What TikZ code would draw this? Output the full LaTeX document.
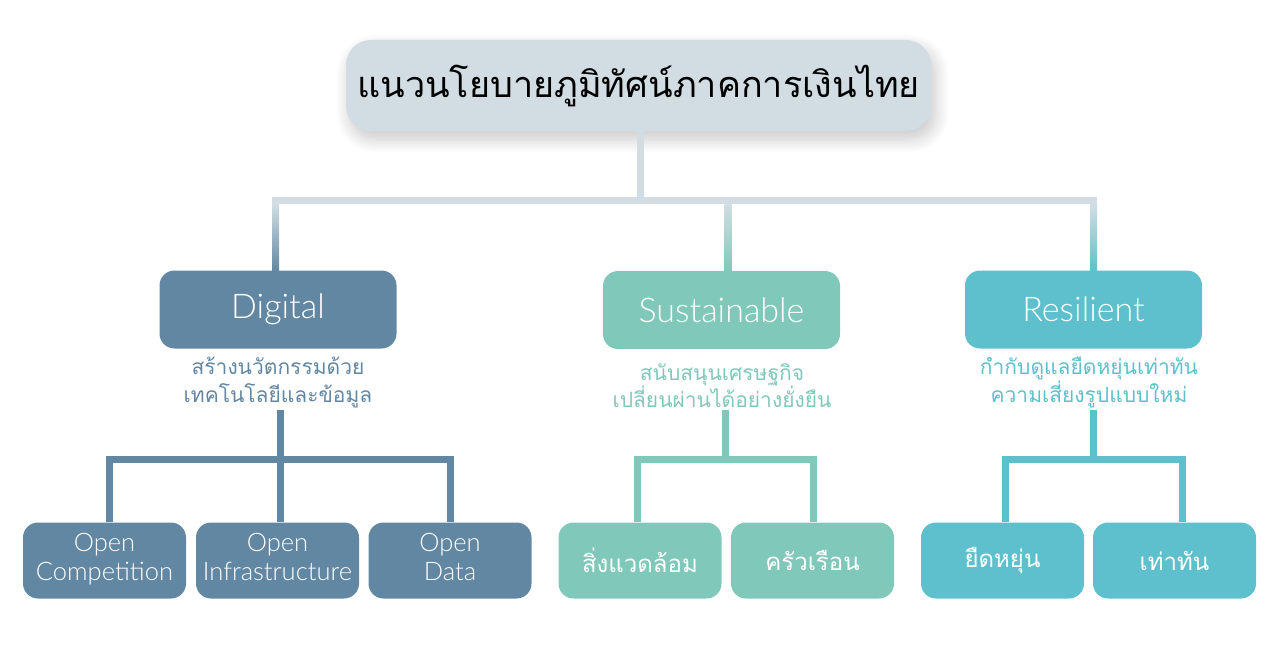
\documentclass[tikz,border=0pt]{standalone}
\usepackage{fontspec}
\IfFontExistsTF{Lato Light}{\setmainfont{Lato Light}}{\setmainfont{Lato}}
\newfontfamily\thaifont[Script=Thai]{Loma}
\usetikzlibrary{positioning}
\usetikzlibrary{calc}
\usetikzlibrary{shadows.blur}
\definecolor{topgrey}{RGB}{209,221,227}
\definecolor{digi}{RGB}{98,135,162}
\definecolor{sust}{RGB}{128,200,186}
\definecolor{resi}{RGB}{94,192,204}

\begin{document}
\begin{tikzpicture}[
    x=1pt, y=-1pt,
    box/.style={rounded corners=15pt, text=white, inner sep=0pt},
    topbox/.style={box, minimum width=237pt, minimum height=78pt, font=\fontsize{34}{40}\selectfont},
    leaf/.style={box, minimum width=163pt, minimum height=76pt, align=center, font=\fontsize{25.5}{29}\selectfont},
    thaileaf/.style={leaf, font=\thaifont\fontsize{24}{30}\selectfont},
    sub/.style={align=center, inner sep=0pt, anchor=south, font=\thaifont\fontsize{21}{27.5}\selectfont},
    bar/.style={line width=7pt},
]
    \useasboundingbox (0,0) rectangle (1280,658);

    \node[fill=topgrey, rounded corners=25pt, minimum width=585pt, minimum height=91pt,
          blur shadow={shadow xshift=4pt, shadow yshift=-8pt, shadow blur radius=14pt, shadow blur steps=12, shadow opacity=22},
          font=\thaifont\fontsize{36}{42}\selectfont] (title) at (638.5,85.5) {แนวนโยบายภูมิทัศน์ภาคการเงินไทย};

    \node[topbox, fill=digi] (digital) at (278,309.5) {Digital};
    \node[topbox, fill=sust] (sustain) at (721.5,310) {Sustainable};
    \node[topbox, fill=resi] (resil) at (1083.5,309.5) {Resilient};

    \node[sub, text=digi] (digsub) at (278,408) {สร้างนวัตกรรมด้วย\\เทคโนโลยีและข้อมูล};
    \node[sub, text=sust] (sustsub) at (722,408) {สนับสนุนเศรษฐกิจ\\เปลี่ยนผ่านได้อย่างยั่งยืน};
    \node[sub, text=resi] (resisub) at (1089,408) {กำกับดูแลยืดหยุ่นเท่าทัน\\ความเสี่ยงรูปแบบใหม่};

    \node[leaf, fill=digi] (opcomp) at (104.5,560.5) {Open\strut\\Competition\strut};
    \node[leaf, fill=digi] (opinfra) at (277.5,560.5) {Open\strut\\Infrastructure\strut};
    \node[leaf, fill=digi] (opdata) at (450,560.5) {Open\strut\\Data\strut};
    \node[thaileaf, fill=sust] (env) at (640,560.5) {สิ่งแวดล้อม};
    \node[thaileaf, fill=sust] (house) at (812.5,560.5) {ครัวเรือน};
    \node[thaileaf, fill=resi] (flex) at (1002.5,560.5) {ยืดหยุ่น};
    \node[thaileaf, fill=resi] (pace) at (1174.5,560.5) {เท่าทัน};

    % top level
    \coordinate (hub) at (640,200.5);
    \coordinate (t1) at (275.5,200.5);
    \coordinate (t2) at (728,200.5);
    \coordinate (t3) at (1093.5,200.5);
    \draw[bar, topgrey] (title.south -| hub) -- (hub);
    \draw[bar, topgrey, line cap=rect] (t1) -- (t3);
    \shade[top color=topgrey, bottom color=digi] ($(t1)+(-3.5,3.5)$) rectangle ($(t1 |- digital.north)+(3.5,1)$);
    \shade[top color=topgrey, bottom color=sust] ($(t2)+(-3.5,3.5)$) rectangle ($(t2 |- sustain.north)+(3.5,1)$);
    \shade[top color=topgrey, bottom color=resi] ($(t3)+(-3.5,3.5)$) rectangle ($(t3 |- resil.north)+(3.5,1)$);

    % Digital
    \coordinate (dj) at (280,459.5);
    \coordinate (dl) at (109.5,459.5);
    \coordinate (dr) at (450.5,459.5);
    \draw[bar, digi] ([yshift=-2pt]digsub.south -| dj) -- (dj |- opinfra.north);
    \draw[bar, digi, line cap=rect] (dl) -- (dr);
    \draw[bar, digi] (dl) -- (dl |- opcomp.north);
    \draw[bar, digi] (dr) -- (dr |- opdata.north);

    % Sustainable
    \coordinate (sj) at (725.5,459.5);
    \coordinate (sl) at (637,459.5);
    \coordinate (sr) at (813,459.5);
    \draw[bar, sust] ([yshift=-2pt]sustsub.south -| sj) -- (sj);
    \draw[bar, sust, line cap=rect] (sl) -- (sr);
    \draw[bar, sust] (sl) -- (sl |- env.north);
    \draw[bar, sust] (sr) -- (sr |- house.north);

    % Resilient
    \coordinate (rj) at (1093,459.5);
    \coordinate (rl) at (1005,459.5);
    \coordinate (rr) at (1182,459.5);
    \draw[bar, resi] ([yshift=-2pt]resisub.south -| rj) -- (rj);
    \draw[bar, resi, line cap=rect] (rl) -- (rr);
    \draw[bar, resi] (rl) -- (rl |- flex.north);
    \draw[bar, resi] (rr) -- (rr |- pace.north);
\end{tikzpicture}
\end{document}
